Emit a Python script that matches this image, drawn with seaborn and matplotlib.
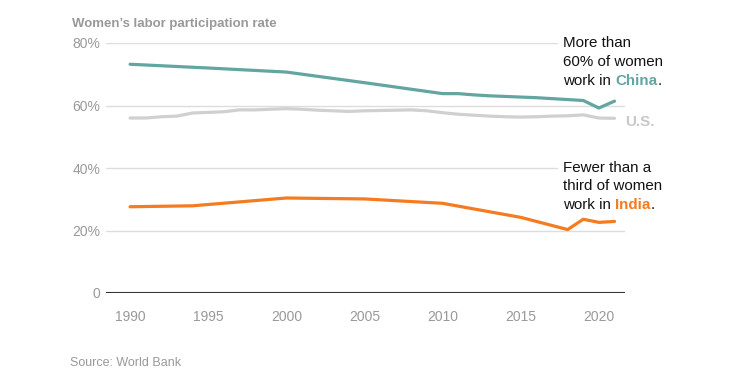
import pandas as pd
import matplotlib.pyplot as plt
import seaborn as sns

# values (percent of women 15+ in labour force)
china_years = [1990, 1995, 2000, 2005, 2010, 2011, 2012, 2013, 2014, 2015,
               2016, 2017, 2018, 2019, 2020, 2021]
china_rate = [73.2, 72.0, 70.7, 67.3, 63.8, 63.8, 63.4, 63.1, 62.9, 62.7,
              62.5, 62.2, 61.9, 61.6, 59.2, 61.4]

us_years = list(range(1990, 2022))
us_rate = [56.0, 56.0, 56.4, 56.6, 57.6, 57.8, 58.0, 58.6, 58.6, 58.8,
           59.0, 58.8, 58.5, 58.3, 58.1, 58.3, 58.4, 58.5, 58.6, 58.3,
           57.7, 57.2, 56.9, 56.6, 56.4, 56.3, 56.4, 56.6, 56.7, 57.0,
           56.0, 55.9]

india_years = [1990, 1994, 2000, 2005, 2010, 2012, 2015, 2018, 2019, 2020, 2021]
india_rate = [27.6, 27.9, 30.4, 30.1, 28.7, 26.9, 24.2, 20.3, 23.6, 22.6, 22.9]

year_ticks = [1990, 1995, 2000, 2005, 2010, 2015, 2020]
pct_ticks = [0, 20, 40, 60, 80]
pct_labels = ["0", "20%", "40%", "60%", "80%"]

TEAL = "#62a5a1"
ORANGE = "#f47b20"
US_GRAY = "#d0d0d0"
LABEL_GRAY = "#999999"
INK = "#121212"

sns.set_style("white")
plt.rcParams["font.family"] = ["Liberation Sans", "DejaVu Sans"]

df = pd.concat([
    pd.DataFrame({"year": us_years, "rate": us_rate, "country": "U.S."}),
    pd.DataFrame({"year": china_years, "rate": china_rate, "country": "China"}),
    pd.DataFrame({"year": india_years, "rate": india_rate, "country": "India"}),
])

W, H = 733, 384
fig = plt.figure(figsize=(W / 100, H / 100), dpi=100)
ax = fig.add_axes([106 / W, 1 - 293 / H, (625 - 106) / W, (293 - 43) / H])

# gridlines (some shortened to leave room for the notes)
for y, xmax in [(80, 0.869), (60, 1.0), (40, 0.869), (20, 1.0)]:
    ax.axhline(y, xmin=0, xmax=xmax, color="#dddddd", lw=1, zorder=0)
ax.axhline(0, color="#333333", lw=1.5, zorder=1)

sns.lineplot(data=df, x="year", y="rate", hue="country",
             palette={"U.S.": US_GRAY, "China": TEAL, "India": ORANGE},
             linewidth=2.3, legend=False, ax=ax, zorder=3)

ax.set_xlim(1988.46, 2021.67)
ax.set_ylim(0, 80)
ax.set_xticks(year_ticks)
ax.set_yticks(pct_ticks)
ax.set_yticklabels(pct_labels)
ax.set_xlabel("")
ax.set_ylabel("")
ax.tick_params(axis="x", length=7, width=1, color="#cccccc", pad=5,
               labelsize=10, labelcolor=LABEL_GRAY)
ax.tick_params(axis="y", length=0, pad=4, labelsize=10, labelcolor=LABEL_GRAY)
sns.despine(ax=ax, left=True, bottom=True)
ax.patch.set_alpha(0)


def rich_line(x_px, base_px, parts, size=10.9):
    """Write one line of text made of differently styled runs."""
    prev = None
    for text, color, weight in parts:
        if prev is None:
            prev = fig.text(x_px / W, 1 - base_px / H, text, color=color,
                            fontweight=weight, fontsize=size,
                            ha="left", va="baseline")
        else:
            prev = ax.annotate(text, xy=(1, 0), xycoords=prev, color=color,
                               fontweight=weight, fontsize=size,
                               ha="left", va="bottom", annotation_clip=False)


rich_line(563, 47, [("More than", INK, "normal")])
rich_line(563, 66, [("60% of women", INK, "normal")])
rich_line(563, 85, [("work in ", INK, "normal"), ("China", TEAL, "bold"),
                    (".", INK, "normal")])

rich_line(563, 172, [("Fewer than a", INK, "normal")])
rich_line(563, 190, [("third of women", INK, "normal")])
rich_line(563, 209, [("work in ", INK, "normal"), ("India", ORANGE, "bold"),
                     (".", INK, "normal")])

fig.text(625 / W, 1 - 126 / H, "U.S.", color="#c8c8c8", fontweight="bold",
         fontsize=10.9, ha="left", va="baseline")

fig.text(72 / W, 1 - 27 / H, "Women\u2019s labor participation rate",
         color=LABEL_GRAY, fontweight="bold", fontsize=9.5,
         ha="left", va="baseline")
fig.text(70 / W, 1 - 366 / H, "Source: World Bank", color=LABEL_GRAY,
         fontsize=9, ha="left", va="baseline")

fig.savefig("out.png", dpi=100)
